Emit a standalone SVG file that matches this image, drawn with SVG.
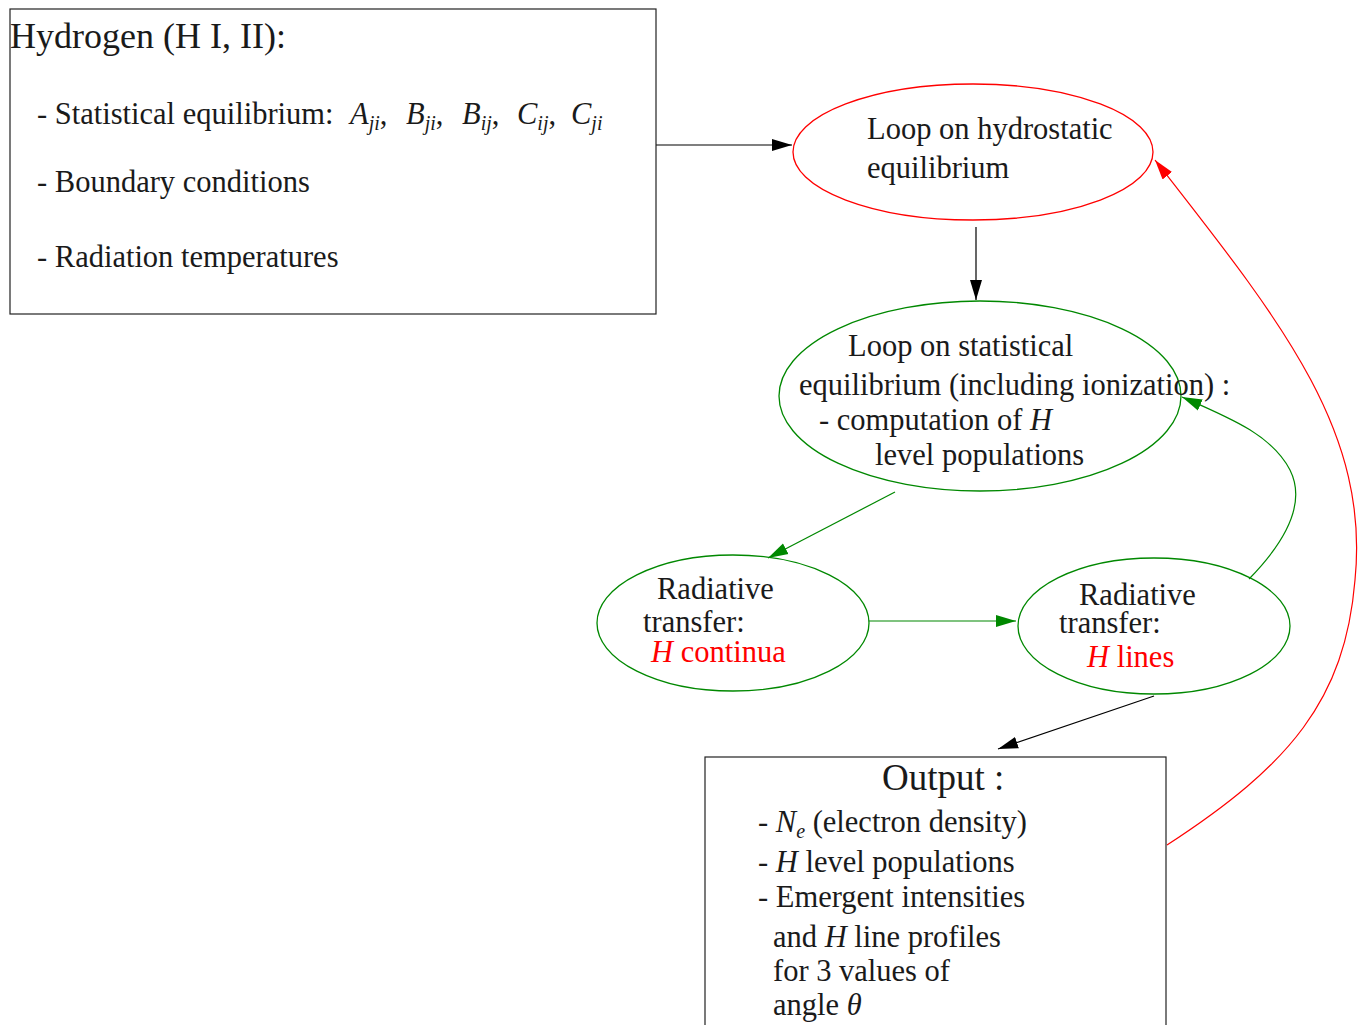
<svg xmlns="http://www.w3.org/2000/svg" width="1368" height="1025" viewBox="0 0 1368 1025">
<defs>
<style>
text{font-family:"Liberation Serif","DejaVu Serif",serif;font-size:30.5px;fill:#1a1a1a}
.i{font-style:italic}
.s{font-size:20px;font-style:italic}
.red{fill:#ff0000}
.box{fill:#fff;stroke:#222;stroke-width:1.2}
.er{fill:none;stroke:#ff0000;stroke-width:1.3}
.eg{fill:none;stroke:#008800;stroke-width:1.3}
.ck{fill:none;stroke:#000;stroke-width:1.2}
.cg{fill:none;stroke:#008800;stroke-width:1.2}
.cr{fill:none;stroke:#ff0000;stroke-width:1.2}
</style>
<marker id="ak" viewBox="0 0 10 10" refX="10" refY="5" markerWidth="20" markerHeight="20" markerUnits="userSpaceOnUse" orient="auto"><path d="M0,2 L10,5 L0,8 z" fill="#000"/></marker>
<marker id="ag" viewBox="0 0 10 10" refX="10" refY="5" markerWidth="20" markerHeight="20" markerUnits="userSpaceOnUse" orient="auto"><path d="M0,2 L10,5 L0,8 z" fill="#008800"/></marker>
<marker id="ar" viewBox="0 0 10 10" refX="10" refY="5" markerWidth="20" markerHeight="20" markerUnits="userSpaceOnUse" orient="auto"><path d="M0,2 L10,5 L0,8 z" fill="#ff0000"/></marker>
</defs>
<rect width="1368" height="1025" fill="#fff"/>

<g id="connectors">
<path class="ck" d="M656,145 L792,145" marker-end="url(#ak)"/>
<path class="ck" d="M976,227 L976,300" marker-end="url(#ak)"/>
<path class="cg" d="M895,492 L768,558" marker-end="url(#ag)"/>
<path class="cg" d="M869,621 L1016,621" marker-end="url(#ag)"/>
<path class="cg" d="M1249,579 C1290,537 1305,500 1290,470 C1272,435 1230,418 1182,397" marker-end="url(#ag)"/>
<path class="ck" d="M1154,696 L998,749" marker-end="url(#ak)"/>
<path class="cr" d="M1167,845 C1290,765 1345,700 1355,580 C1370,430 1280,320 1155,160" marker-end="url(#ar)"/>
</g>

<g id="hydrogen">
<rect class="box" x="10" y="9" width="646" height="305"/>
<text x="10" y="48" style="font-size:36px">Hydrogen (H I, II):</text>
<text x="37" y="124">- Statistical equilibrium:</text>
<text y="124"><tspan x="350" class="i">A</tspan><tspan class="s" dy="6">ji</tspan><tspan dy="-6">,</tspan><tspan x="406" class="i">B</tspan><tspan class="s" dy="6">ji</tspan><tspan dy="-6">,</tspan><tspan x="462" class="i">B</tspan><tspan class="s" dy="6">ij</tspan><tspan dy="-6">,</tspan><tspan x="517" class="i">C</tspan><tspan class="s" dy="6">ij</tspan><tspan dy="-6">,</tspan><tspan x="571" class="i">C</tspan><tspan class="s" dy="6">ji</tspan></text>
<text x="37" y="192">- Boundary conditions</text>
<text x="37" y="267">- Radiation temperatures</text>
</g>

<g id="hydrostatic">
<ellipse class="er" cx="973" cy="152" rx="180" ry="68"/>
<text x="867" y="139">Loop on hydrostatic</text>
<text x="867" y="178">equilibrium</text>
</g>

<g id="statistical">
<ellipse class="eg" cx="980" cy="396" rx="201" ry="95"/>
<text x="848" y="356">Loop on statistical</text>
<text x="799" y="395">equilibrium (including ionization) :</text>
<text x="819" y="430">- computation of <tspan class="i">H</tspan></text>
<text x="875" y="465">level populations</text>
</g>

<g id="continua">
<ellipse class="eg" cx="733" cy="623" rx="136" ry="68"/>
<text x="657" y="599">Radiative</text>
<text x="643" y="632">transfer:</text>
<text x="651" y="662" class="red"><tspan class="i">H</tspan> continua</text>
</g>

<g id="lines">
<ellipse class="eg" cx="1154" cy="626" rx="136" ry="68"/>
<text x="1079" y="605">Radiative</text>
<text x="1059" y="633">transfer:</text>
<text x="1087" y="667" class="red"><tspan class="i">H</tspan> lines</text>
</g>

<g id="output">
<rect class="box" x="705" y="757" width="461" height="290"/>
<text x="882" y="790" style="font-size:37px">Output :</text>
<text x="758" y="832">- <tspan class="i">N</tspan><tspan class="s" dy="6">e</tspan><tspan dy="-6"> (electron density)</tspan></text>
<text x="758" y="872">- <tspan class="i">H</tspan> level populations</text>
<text x="758" y="907">- Emergent intensities</text>
<text x="773" y="947">and <tspan class="i">H</tspan> line profiles</text>
<text x="773" y="981">for 3 values of</text>
<text x="773" y="1015">angle <tspan class="i">θ</tspan></text>
</g>
</svg>
